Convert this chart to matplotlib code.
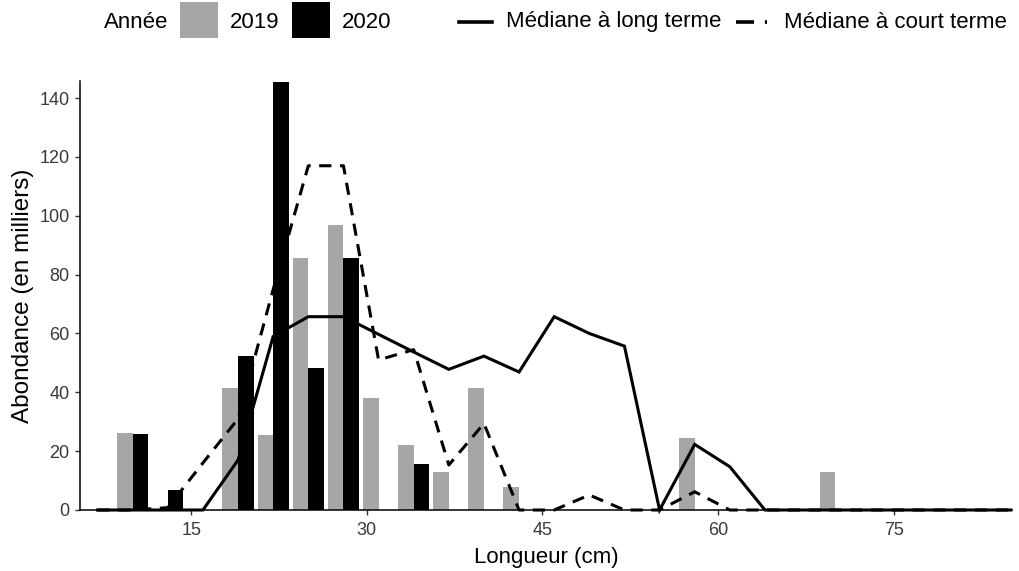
import matplotlib
matplotlib.use("Agg")
import matplotlib.pyplot as plt
from matplotlib.patches import Rectangle
from matplotlib.lines import Line2D
import numpy as np

plt.rcParams['font.family'] = ['Liberation Sans', 'DejaVu Sans']

# ---- data ----
bar_lengths = [10, 13, 16, 19, 22, 25, 28, 31, 34, 37, 40, 43, 46, 49, 52, 55, 58, 61, 64, 67, 70]
abund_2019 = [26.3, 0, 0, 41.6, 25.5, 85.5, 96.8, 38.2, 22.1, 13.0, 41.6, 7.9, 0, 0, 0, 0, 24.5, 0, 0, 0, 12.9]
abund_2020 = [25.8, 6.8, 0, 52.3, 145.5, 48.4, 85.5, 0, 15.5, 0, 0, 0, 0, 0, 0, 0, 0, 0, 0, 0, 0]

line_lengths = [7, 10, 13, 16, 19, 22, 25, 28, 31, 34, 37, 40, 43, 46, 49, 52, 55, 58, 61, 64,
                67, 70, 73, 76, 79, 82, 85]
median_long = [0, 0, 0, 0, 17, 59, 65.7, 65.7, 59.7, 53.7, 47.8, 52.3, 46.9, 65.7, 60, 55.7, 0, 22.3, 14.7, 0,
               0, 0, 0, 0, 0, 0, 0]
median_short = [0, 0, 0.8, 16, 31, 75, 117, 117, 51, 54.5, 15.3, 29.4, 0, 0, 5.1, 0, 0, 6.2, 0, 0,
                0, 0, 0, 0, 0, 0, 0]

x_ticks = [15, 30, 45, 60, 75]
y_ticks = [0, 20, 40, 60, 80, 100, 120, 140]
year_labels = ["2019", "2020"]
line_labels = ["Médiane à long terme", "Médiane à court terme"]

GREY = '#A6A6A6'
W, H = 1019, 571

fig = plt.figure(figsize=(W / 100, H / 100), dpi=100)
ax = fig.add_axes([80 / W, 1 - 510 / H, (1012 - 80) / W, (510 - 81) / H])

bw = 1.33
xb = np.array(bar_lengths, dtype=float)
ax.bar(xb - bw / 2, abund_2019, width=bw, color=GREY, linewidth=0, zorder=2)
ax.bar(xb + bw / 2, abund_2020, width=bw, color='black', linewidth=0, zorder=2)

ax.plot(line_lengths, median_short, color='black', lw=2.2, linestyle=(0, (4, 2.8)), zorder=3,
        clip_on=False)
ax.plot(line_lengths, median_long, color='black', lw=2.2, solid_joinstyle='miter', zorder=4,
        clip_on=False)

ax.set_xlim(5.5, 85.1)
ax.set_ylim(0, 145.8)
ax.set_xticks(x_ticks)
ax.set_yticks(y_ticks)

for s in ['top', 'right']:
    ax.spines[s].set_visible(False)
for s in ['left', 'bottom']:
    ax.spines[s].set_linewidth(1.1)
    ax.spines[s].set_color('black')
ax.tick_params(axis='both', length=3.5, width=1.0, color='#333333', labelsize=13, labelcolor='#3a3a3a')
ax.tick_params(axis='x', pad=5)
ax.tick_params(axis='y', pad=4)

ax.set_xlabel("Longueur (cm)", fontsize=16, labelpad=6)
ax.set_ylabel("Abondance (en milliers)", fontsize=17.5, labelpad=4)

# ---- legend (top) ----
yc = 1 - 20 / H
yt = 1 - 22 / H
fig.text(104 / W, yt, "Année", fontsize=16, va='center', ha='left')
box_w, box_h = 38 / W, 36 / H
fig.patches.append(Rectangle((180 / W, yc - box_h / 2), box_w, box_h, facecolor=GREY, edgecolor='none',
                             transform=fig.transFigure, figure=fig))
fig.text(230 / W, yt, year_labels[0], fontsize=16, va='center', ha='left')
fig.patches.append(Rectangle((292 / W, yc - box_h / 2), box_w, box_h, facecolor='black', edgecolor='none',
                             transform=fig.transFigure, figure=fig))
fig.text(342 / W, yt, year_labels[1], fontsize=16, va='center', ha='left')

fig.lines.append(Line2D([459 / W, 492 / W], [yt, yt], color='black', lw=2.6,
                        transform=fig.transFigure, figure=fig))
fig.text(506 / W, yt, line_labels[0], fontsize=16, va='center', ha='left')
fig.lines.append(Line2D([736 / W, 767 / W], [yt, yt], color='black', lw=2.6, linestyle=(0, (5, 3)),
                        transform=fig.transFigure, figure=fig))
fig.text(784 / W, yt, line_labels[1], fontsize=16, va='center', ha='left')

fig.savefig("out.png", dpi=100)
